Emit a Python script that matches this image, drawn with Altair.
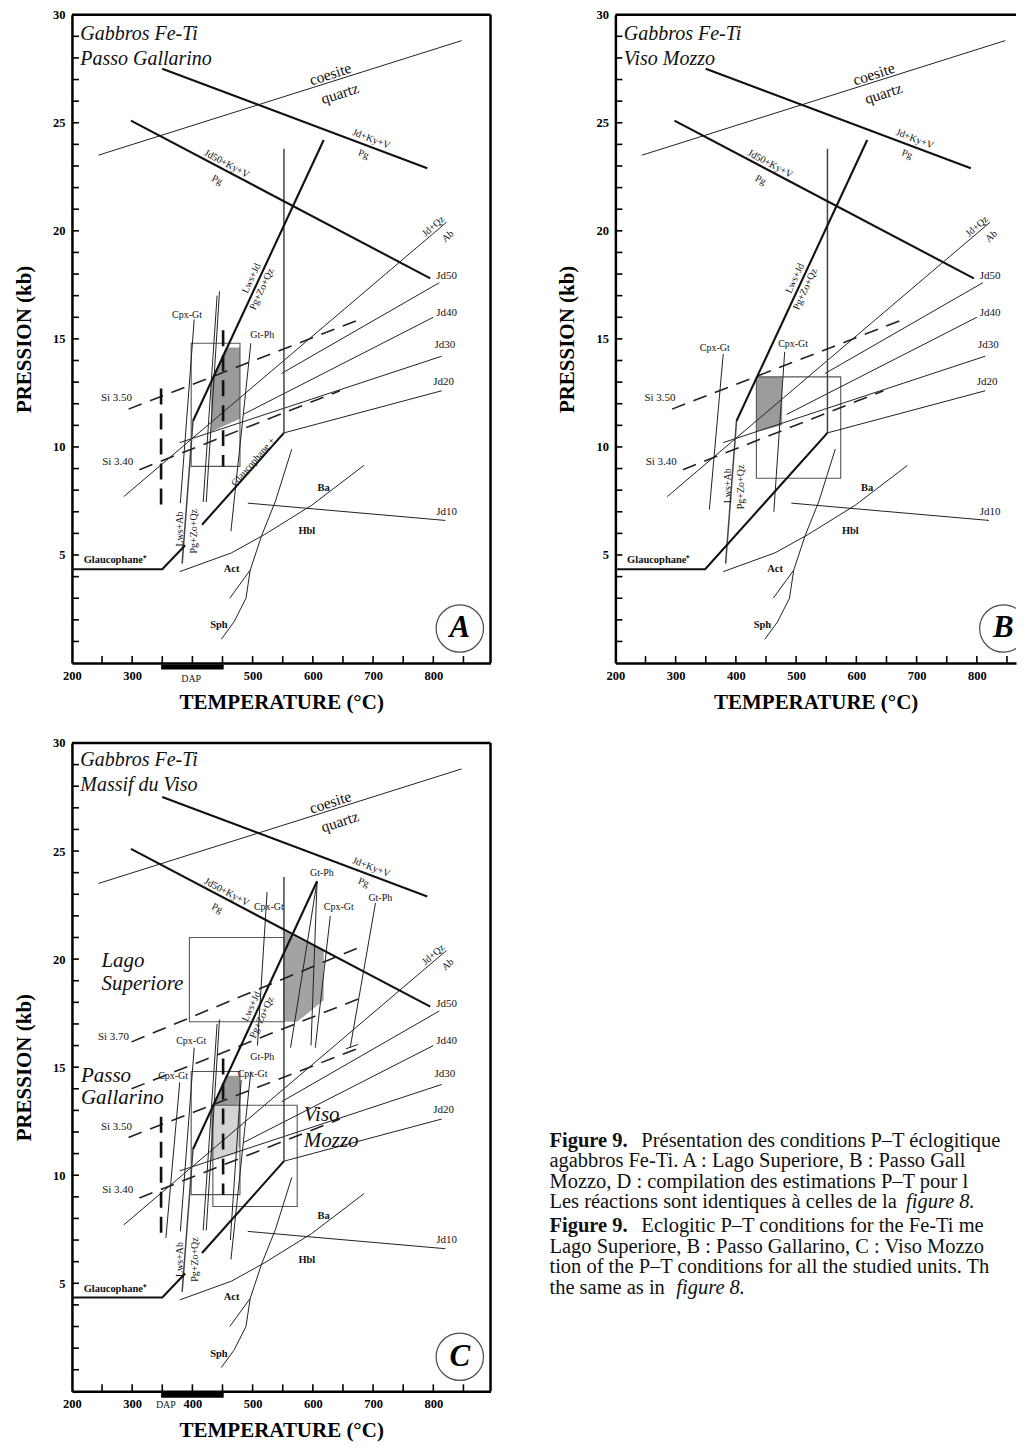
import altair as alt
import pandas as pd

FONT = "Liberation Serif"
H = 649                  # plot height, 0-30 kb
PX_PER_DEG = 0.6027      # px per degree C
T_MIN = 200
T_MAX_AC = 895
T_MAX_B = 865

X_LABELS = [200, 300, 400, 500, 600, 700, 800]
X_LABELS_A = [200, 300, 500, 600, 700, 800]      # 400 replaced by the DAP bar in panel A
X_TICKS = [250, 300, 350, 400, 450, 500, 550, 600, 650, 700, 750, 800, 850]
Y_LABELS = [5, 10, 15, 20, 25, 30]
Y_TICKS = list(range(1, 30))

# ---------------- shared reaction curves (T in degC, P in kb)
COES_T = [244, 847];        COES_P = [23.5, 28.8]
JDKYV_T = [350, 790];       JDKYV_P = [27.5, 22.9]
JD50KYV_T = [298, 795];     JD50KYV_P = [25.1, 17.8]
V552_T = [552, 552];        V552_P = [10.65, 23.8]
JDQZ_T = [286, 822];        JDQZ_P = [7.7, 20.4]
JD50_T = [548, 810];        JD50_P = [13.4, 17.6]
JD40_T = [484, 800];        JD40_P = [11.5, 16.0]
JD30_T = [379, 814];        JD30_P = [10.2, 14.2]
JD20_T = [552, 814];        JD20_P = [10.65, 12.6]
JD10_T = [492, 820];        JD10_P = [7.4, 6.6]
HBL_T = [379, 465, 520, 598, 685];            HBL_P = [4.23, 5.1, 5.95, 7.3, 9.15]
SPH_T = [448, 469, 489, 496, 515, 538, 565];  SPH_P = [1.1, 1.9, 3.0, 4.3, 5.9, 7.5, 9.9]
ACT_T = [462, 496];         ACT_P = [3.0, 4.3]
SI350_T = [294, 678];       SI350_P = [11.75, 15.9]
SI340_T = [312, 645];       SI340_P = [8.95, 12.6]
LWSJD_T = [401, 618];       LWSJD_P = [11.2, 24.2]
LWSJD_C_T = [401, 607];     LWSJD_C_P = [11.2, 23.6]
LWSAB_T = [401, 383];       LWSAB_P = [11.2, 4.6]
GLAU1_T = [200, 350, 388];  GLAU1_P = [4.34, 4.34, 5.45]
GLAU2_T = [416, 552];       GLAU2_P = [6.4, 10.65]
GLAUB_T = [200, 349, 552];  GLAUB_P = [4.34, 4.34, 10.65]

# ---------------- Passo Gallarino (A)
RECT_A = [398, 479, 9.1, 14.8]
SHADE_A_T = [431, 455, 479]; SHADE_A_TOP = [13.0, 14.6, 14.6]; SHADE_A_BOT = [10.7, 11.0, 11.3]
CPXGT_A_T = [403, 380];      CPXGT_A_P = [15.9, 7.4]
PAIR1_T = [441, 418];        PAIR1_P = [17.0, 7.45]
PAIR2_T = [445, 423];        PAIR2_P = [17.2, 7.45]
GTPH_A_T = [497, 464];       GTPH_A_P = [14.8, 6.1]
DV1_T = [348, 348];          DV1_P = [12.7, 7.2]
DV2_T = [451, 451];          DV2_P = [15.4, 9.1]

# ---------------- Viso Mozzo (B)
RECT_B = [434, 574, 8.55, 13.24]
SHADE_B_T = [434, 477];      SHADE_B_TOP = [13.24, 13.24]; SHADE_B_BOT = [10.7, 11.0]
CPXGT_B1_T = [379, 356];     CPXGT_B1_P = [14.3, 7.1]
CPXGT_B2_T = [481, 463];     CPXGT_B2_P = [14.4, 7.0]

# ---------------- Lago Superiore (C)
RECT_L = [395, 552, 17.1, 21.0]
SHADE_L_T = [552, 574, 618]; SHADE_L_TOP = [21.3, 20.97, 20.35]; SHADE_L_BOT = [17.1, 17.1, 18.1]
GTPH_C1_T = [607, 563];      GTPH_C1_P = [23.6, 15.9]
GTPH_C2_T = [607, 597];      GTPH_C2_P = [23.6, 16.0]
CPXGT_C1_T = [524, 508];     CPXGT_C1_P = [23.1, 16.0]
CPXGT_C2_T = [629, 604];     CPXGT_C2_P = [22.0, 15.9]
GTPH_C3_T = [704, 662];      GTPH_C3_P = [22.6, 15.9]
TICK_C_T = [655, 675];       TICK_C_P = [15.85, 16.05]
SI370_T = [299, 682];        SI370_P = [16.17, 20.6]
SI360_T = [299, 684];        SI360_P = [14.0, 18.25]

DAP_T = [348, 452]
LETTER_T, LETTER_P = 844, 1.6

# ---------------- labels (text, T, P, angle, size)
BASE_LBL = [
    ("coesite", 629, 27.25, 342, 15.5), ("quartz", 645, 26.35, 342, 15.5),
    ("Jd+Ky+V", 697, 24.25, 21, 10), ("Pg", 684, 23.55, 21, 10),
    ("Jd50+Ky+V", 457, 23.1, 28, 10), ("Pg", 441, 22.35, 28, 10),
    ("Jd+Qz", 800, 20.2, 319, 10), ("Ab", 824, 19.75, 319, 10),
    ("Jd50", 822, 17.9, 0, 11), ("Jd40", 822, 16.2, 0, 11), ("Jd30", 819, 14.7, 0, 11),
    ("Jd20", 817, 13.0, 0, 11), ("Jd10", 822, 7.0, 0, 11),
    ("Si 3.50", 274, 12.25, 0, 11), ("Si 3.40", 276, 9.3, 0, 11),
    ("Lws+Jd", 498, 17.8, 295, 10), ("Pg+Zo+Qz", 515, 17.3, 295, 10),
]
BOLD_LBL = [
    ("Glaucophane\u207a", 272, 4.75, 0, 10.5), ("Ba", 618, 8.1, 0, 10.5), ("Hbl", 590, 6.1, 0, 10.5),
    ("Act", 465, 4.35, 0, 10.5), ("Sph", 444, 1.75, 0, 10.5),
]
A_LBL = [("Cpx-Gt", 391, 16.1, 0, 10), ("Gt-Ph", 516, 15.2, 0, 10), ("Glaucophane +", 501, 9.3, 311, 10),
         ("Lws+Ab", 380, 6.2, 270, 10), ("Pg+Zo+Qz", 403, 6.1, 270, 10)]
B_LBL = [("Cpx-Gt", 365, 14.6, 0, 10), ("Cpx-Gt", 495, 14.74, 0, 10),
         ("Lws+Ab", 387, 8.2, 270, 10), ("Pg+Zo+Qz", 409, 8.15, 270, 10)]
C_LBL = [("Cpx-Gt", 398, 16.2, 0, 10), ("Cpx-Gt", 368, 14.6, 0, 10), ("Cpx-Gt", 500, 14.7, 0, 10),
         ("Gt-Ph", 516, 15.45, 0, 10), ("Cpx-Gt", 527, 22.4, 0, 10), ("Cpx-Gt", 643, 22.4, 0, 10),
         ("Gt-Ph", 615, 24.0, 0, 10), ("Gt-Ph", 712, 22.85, 0, 10), ("Si 3.70", 269, 16.4, 0, 11),
         ("Lws+Ab", 379, 6.1, 270, 10), ("Pg+Zo+Qz", 404, 6.1, 270, 10)]
HAND_A = [("Gabbros Fe-Ti", 214, 29.1, 0, 20), ("Passo Gallarino", 214, 27.95, 0, 20)]
HAND_B = [("Gabbros Fe-Ti", 214, 29.1, 0, 20), ("Viso Mozzo", 214, 27.95, 0, 20)]
HAND_C = [("Gabbros Fe-Ti", 214, 29.2, 0, 20), ("Massif du Viso", 214, 28.05, 0, 20),
          ("Lago", 249, 19.9, 0, 21), ("Superiore", 249, 18.85, 0, 21),
          ("Passo", 215, 14.6, 0, 21), ("Gallarino", 215, 13.55, 0, 21),
          ("Viso", 585, 12.8, 0, 21), ("Mozzo", 585, 11.6, 0, 21)]

# ---------------- caption
CAP_BOLD_ROWS = [0, 4]
CAP_BOLD = "Figure 9."
CAP_ROWS = [
    "Présentation des conditions P\u2013T éclogitique",
    "agabbros Fe-Ti. A : Lago Superiore, B : Passo Gall",
    "Mozzo, D : compilation des estimations P\u2013T pour l",
    "Les réactions sont identiques à celles de la",
    "Eclogitic P\u2013T conditions for the Fe-Ti me",
    "Lago Superiore, B : Passo Gallarino, C : Viso Mozzo",
    "tion of the P\u2013T conditions for all the studied units. Th",
    "the same as in",
]
CAP_ITALIC = [(3, "figure 8."), (7, "figure 8.")]


def lines_df(lines):
    rows = []
    for i, (ts, ps) in enumerate(lines):
        for k, (t, p) in enumerate(zip(ts, ps)):
            rows.append({"id": i, "k": k, "T": t, "P": p})
    return pd.DataFrame(rows)


def labels_df(items):
    return pd.DataFrame([{"text": a, "T": b, "P": c, "ang": d, "sz": e} for a, b, c, d, e in items])


def make_x_axis(values):
    return alt.Axis(values=values, ticks=False, grid=False, domain=True, domainColor="black", domainWidth=2.5,
                    labelFont=FONT, labelFontSize=12.5, labelFontWeight="bold", labelColor="black",
                    labelPadding=6, labelFlush=False, labelOverlap=False,
                    title="TEMPERATURE (\u00b0C)", titleFont=FONT, titleFontSize=21, titleFontWeight="bold",
                    titleColor="black", titlePadding=10)


y_axis = alt.Axis(values=Y_LABELS, ticks=False, grid=False, domain=True, domainColor="black", domainWidth=2.5,
                  labelFont=FONT, labelFontSize=12.5, labelFontWeight="bold", labelColor="black",
                  labelPadding=7, labelFlush=False, labelOverlap=False,
                  title="PRESSION (kb)", titleFont=FONT, titleFontSize=21, titleFontWeight="bold",
                  titleColor="black", titlePadding=18)


def panel(t_max, x_labels, thick, thin, medium, dashed, heavy_dash, rects, shades, lab_n, lab_h, letter,
          dap=None, dap_label_T=None, dap_label_dy=9, right_frame=True):
    W = round((t_max - T_MIN) * PX_PER_DEG)
    xs = alt.Scale(domain=[T_MIN, t_max], nice=False, zero=False)
    ys = alt.Scale(domain=[0, 30], nice=False, zero=False)
    X = alt.X("T:Q", scale=xs, axis=make_x_axis(x_labels))
    Y = alt.Y("P:Q", scale=ys, axis=y_axis)
    L = []
    for (ts, top, bot, col) in shades:
        df = pd.DataFrame({"T": ts, "P": top, "P2": bot})
        L.append(alt.Chart(df).mark_area(color=col, opacity=1).encode(x=X, y=Y, y2="P2:Q"))
    if rects:
        df = pd.DataFrame([{"T": r[0], "T2": r[1], "P": r[2], "P2": r[3]} for r in rects])
        L.append(alt.Chart(df).mark_rect(fillOpacity=0, stroke="#555", strokeWidth=1.1)
                 .encode(x=X, x2="T2:Q", y=Y, y2="P2:Q"))
    styles = [
        (thin, dict(strokeWidth=1.0, color="#222")),
        (medium, dict(strokeWidth=1.5, color="#444")),
        (dashed, dict(strokeWidth=1.6, color="#222", strokeDash=[14, 9])),
        (heavy_dash, dict(strokeWidth=2.6, color="#111", strokeDash=[16, 9])),
        (thick, dict(strokeWidth=2.1, color="#111")),
    ]
    for lines, kw in styles:
        if lines:
            L.append(alt.Chart(lines_df(lines)).mark_line(**kw)
                     .encode(x=X, y=Y, detail="id:N", order="k:Q"))
    # inward ticks
    L.append(alt.Chart(pd.DataFrame({"P": Y_TICKS})).mark_rule(color="black", strokeWidth=1.6)
             .encode(y=Y, x=alt.value(0), x2=alt.value(7)))
    xt = [t for t in X_TICKS if t < t_max]
    L.append(alt.Chart(pd.DataFrame({"T": xt})).mark_rule(color="black", strokeWidth=1.6)
             .encode(x=X, y=alt.value(H), y2=alt.value(H - 7)))
    # frame top / right
    one = pd.DataFrame({"k": [0]})
    L.append(alt.Chart(one).mark_rule(color="black", strokeWidth=2.5)
             .encode(x=alt.value(0), x2=alt.value(W), y=alt.value(0)))
    if right_frame:
        L.append(alt.Chart(one).mark_rule(color="black", strokeWidth=2.5)
                 .encode(x=alt.value(W), y=alt.value(0), y2=alt.value(H)))
    # DAP
    if dap:
        L.append(alt.Chart(pd.DataFrame({"T": [dap[0]], "T2": [dap[1]]}))
                 .mark_rule(color="black", strokeWidth=5)
                 .encode(x=X, x2="T2:Q", y=alt.value(H + 4)))
        L.append(alt.Chart(pd.DataFrame({"T": [dap_label_T], "text": ["DAP"]}))
                 .mark_text(font=FONT, fontSize=10, color="#222", baseline="top")
                 .encode(x=X, y=alt.value(H + dap_label_dy), text="text:N"))
    # labels
    L.append(alt.Chart(labels_df(lab_n)).mark_text(font=FONT, color="#111", baseline="middle")
             .encode(x=X, y=Y, text="text:N", angle=alt.Angle("ang:Q", scale=None),
                     size=alt.Size("sz:Q", scale=None)))
    L.append(alt.Chart(labels_df(BOLD_LBL)).mark_text(font=FONT, fontWeight="bold", color="#111", baseline="middle")
             .encode(x=X, y=Y, text="text:N", size=alt.Size("sz:Q", scale=None)))
    L.append(alt.Chart(labels_df(lab_h)).mark_text(font=FONT, fontStyle="italic", color="#111",
                                                   align="left", baseline="middle")
             .encode(x=X, y=Y, text="text:N", size=alt.Size("sz:Q", scale=None)))
    # panel letter (circle clipped to the plot so it never widens the page)
    ldf = pd.DataFrame({"T": [LETTER_T], "P": [LETTER_P], "text": [letter]})
    L.append(alt.Chart(ldf).mark_point(shape="circle", size=2250, filled=False, color="black",
                                       strokeWidth=1.2, clip=True)
             .encode(x=X, y=Y))
    L.append(alt.Chart(ldf).mark_text(font=FONT, fontSize=31, fontStyle="italic", fontWeight="bold",
                                      color="black", baseline="middle")
             .encode(x=X, y=Y, text="text:N"))
    return alt.layer(*L).properties(width=W, height=H)


base_thick = [(JDKYV_T, JDKYV_P), (JD50KYV_T, JD50KYV_P)]
base_thin = [(COES_T, COES_P), (JDQZ_T, JDQZ_P), (JD50_T, JD50_P), (JD40_T, JD40_P), (JD30_T, JD30_P),
             (JD20_T, JD20_P), (JD10_T, JD10_P), (HBL_T, HBL_P), (SPH_T, SPH_P), (ACT_T, ACT_P)]
base_medium = [(V552_T, V552_P), (LWSAB_T, LWSAB_P)]
base_dash = [(SI350_T, SI350_P), (SI340_T, SI340_P)]

A_thin = [(CPXGT_A_T, CPXGT_A_P), (PAIR1_T, PAIR1_P), (PAIR2_T, PAIR2_P), (GTPH_A_T, GTPH_A_P)]
B_thin = [(CPXGT_B1_T, CPXGT_B1_P), (CPXGT_B2_T, CPXGT_B2_P)]
C_thin = [(GTPH_C1_T, GTPH_C1_P), (GTPH_C2_T, GTPH_C2_P), (CPXGT_C1_T, CPXGT_C1_P),
          (CPXGT_C2_T, CPXGT_C2_P), (GTPH_C3_T, GTPH_C3_P), (TICK_C_T, TICK_C_P)]

panel_A = panel(
    T_MAX_AC, X_LABELS_A,
    thick=base_thick + [(LWSJD_T, LWSJD_P), (GLAU1_T, GLAU1_P), (GLAU2_T, GLAU2_P)],
    thin=base_thin + A_thin, medium=base_medium, dashed=base_dash,
    heavy_dash=[(DV1_T, DV1_P), (DV2_T, DV2_P)],
    rects=[RECT_A],
    shades=[(SHADE_A_T, SHADE_A_TOP, SHADE_A_BOT, "#9b9b9b")],
    lab_n=BASE_LBL + A_LBL, lab_h=HAND_A, letter="A", dap=DAP_T, dap_label_T=398, dap_label_dy=11)

panel_B = panel(
    T_MAX_B, X_LABELS,
    thick=base_thick + [(LWSJD_T, LWSJD_P), (GLAUB_T, GLAUB_P)],
    thin=base_thin + B_thin, medium=base_medium, dashed=base_dash, heavy_dash=[],
    rects=[RECT_B],
    shades=[(SHADE_B_T, SHADE_B_TOP, SHADE_B_BOT, "#9b9b9b")],
    lab_n=BASE_LBL + B_LBL, lab_h=HAND_B, letter="B", right_frame=False)

panel_C = panel(
    T_MAX_AC, X_LABELS,
    thick=base_thick + [(LWSJD_C_T, LWSJD_C_P), (GLAU1_T, GLAU1_P), (GLAU2_T, GLAU2_P)],
    thin=base_thin + A_thin + B_thin + C_thin, medium=base_medium,
    dashed=base_dash + [(SI370_T, SI370_P), (SI360_T, SI360_P)],
    heavy_dash=[(DV1_T, DV1_P), (DV2_T, DV2_P)],
    rects=[RECT_A, RECT_B, RECT_L],
    shades=[(SHADE_L_T, SHADE_L_TOP, SHADE_L_BOT, "#a3a3a3"),
            (SHADE_A_T, SHADE_A_TOP, SHADE_A_BOT, "#9b9b9b"),
            (SHADE_B_T, SHADE_B_TOP, SHADE_B_BOT, "#d4d4d4")],
    lab_n=BASE_LBL + C_LBL, lab_h=HAND_C, letter="C", dap=DAP_T, dap_label_T=356)

# ---------------- caption block
CAP_W = 462
CAP_FS = 20.5
CAP_LS = 20.6
CAP_GAP = 0.15
CAP_Y0 = 398  # first line centre, px from top of caption area
cap_rows = [i + (CAP_GAP if i >= 4 else 0) for i in range(len(CAP_ROWS))]
cap_scale = alt.Scale(domain=[-CAP_Y0 / CAP_LS, (H - CAP_Y0) / CAP_LS], reverse=True, nice=False, zero=False)
CY = alt.Y("row:Q", scale=cap_scale, axis=None)
cap_plain = pd.DataFrame({"row": [cap_rows[i] for i in range(len(CAP_ROWS)) if i not in CAP_BOLD_ROWS],
                          "text": [CAP_ROWS[i] for i in range(len(CAP_ROWS)) if i not in CAP_BOLD_ROWS]})
cap_after_bold = pd.DataFrame({"row": [cap_rows[i] for i in CAP_BOLD_ROWS],
                               "text": [CAP_ROWS[i] for i in CAP_BOLD_ROWS]})
cap_bold = pd.DataFrame({"row": [cap_rows[i] for i in CAP_BOLD_ROWS], "text": [CAP_BOLD] * len(CAP_BOLD_ROWS)})
txt_kw = dict(font=FONT, fontSize=CAP_FS, color="#111", align="left", baseline="middle",
              limit=CAP_W, ellipsis="\u200b")
DX_AFTER_BOLD = 92
DX_ITAL = [357, 127]
cap_layers = [
    alt.Chart(cap_bold).mark_text(fontWeight="bold", **txt_kw)
    .encode(x=alt.value(0), y=CY, text="text:N"),
    alt.Chart(cap_after_bold).mark_text(dx=DX_AFTER_BOLD, **dict(txt_kw, limit=CAP_W - DX_AFTER_BOLD))
    .encode(x=alt.value(0), y=CY, text="text:N"),
    alt.Chart(cap_plain).mark_text(**txt_kw).encode(x=alt.value(0), y=CY, text="text:N"),
]
for (r, t), dx in zip(CAP_ITALIC, DX_ITAL):
    cap_layers.append(
        alt.Chart(pd.DataFrame({"row": [cap_rows[r]], "text": [t]}))
        .mark_text(fontStyle="italic", dx=dx, **dict(txt_kw, limit=CAP_W - dx))
        .encode(x=alt.value(0), y=CY, text="text:N"))
caption = alt.layer(*cap_layers).properties(width=CAP_W, height=H)

row1 = alt.hconcat(panel_A, panel_B, spacing=64)
row2 = alt.hconcat(panel_C, caption, spacing=57)
chart = (alt.vconcat(row1, row2, spacing=24)
         .configure_view(stroke=None)
         .properties(padding={"left": 5, "top": 0, "right": 0, "bottom": 0}))

chart.save("out.html", embed_options={"renderer": "svg", "actions": False})
